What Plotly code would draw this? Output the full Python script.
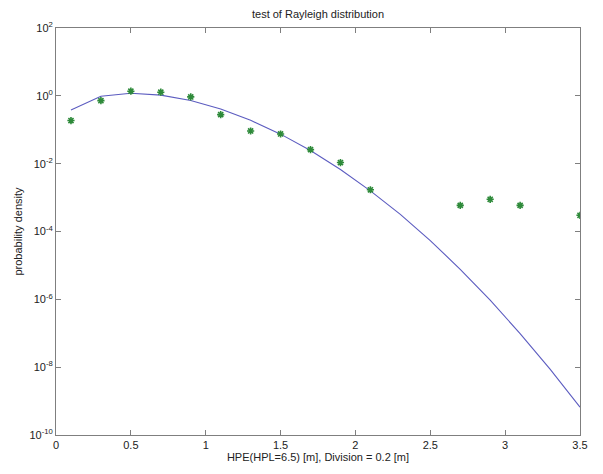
import plotly.graph_objects as go

# Histogram bin centres (Division = 0.2 m)
bin_x = [0.1, 0.3, 0.5, 0.7, 0.9, 1.1, 1.3, 1.5, 1.7, 1.9, 2.1, 2.7, 2.9, 3.1, 3.5]
bin_density = [0.187, 0.72, 1.37, 1.28, 0.93, 0.28, 0.092, 0.075, 0.026, 0.0108,
               0.0017, 5.9e-4, 8.9e-4, 5.9e-4, 3.0e-4]

# Theoretical Rayleigh curve
curve_x = [0.1, 0.3, 0.5, 0.7, 0.9, 1.1, 1.3, 1.5, 1.7, 1.9, 2.1, 2.3, 2.5, 2.7,
           2.9, 3.1, 3.3, 3.5]
curve_y = [0.38, 0.977, 1.19, 1.05, 0.726, 0.409, 0.19, 0.0743, 0.0243, 6.7e-3,
           1.58e-3, 3.2e-4, 5.4e-5, 7.7e-6, 9.4e-7, 9.8e-8, 8.7e-9, 6.6e-10]

x_ticks = [0, 0.5, 1, 1.5, 2, 2.5, 3, 3.5]
x_tick_text = ["0", "0.5", "1", "1.5", "2", "2.5", "3", "3.5"]
y_exps = [2, 0, -2, -4, -6, -8, -10]

fig = go.Figure()
fig.add_trace(go.Scatter(x=curve_x, y=curve_y, mode="lines",
                         line=dict(color="#5c5cc0", width=1.1), showlegend=False))
fig.add_trace(go.Scatter(x=bin_x, y=bin_density, mode="markers",
                         marker=dict(symbol="asterisk-open", size=6, color="#2e8a3a",
                                     line=dict(color="#2e8a3a", width=1.6)),
                         showlegend=False))

axis_common = dict(showline=True, linecolor="#7f7f7f", linewidth=1, mirror="allticks",
                   ticks="inside", ticklen=5, tickcolor="#7f7f7f", showgrid=False,
                   zeroline=False, tickfont=dict(family="Liberation Sans, Arial", size=11,
                                                 color="#222222"))

fig.update_layout(
    width=603, height=474,
    margin=dict(l=56, r=23, t=28, b=34),
    paper_bgcolor="white", plot_bgcolor="white",
    title=dict(text="test of Rayleigh distribution", x=0.5, xanchor="center",
               xref="paper", y=1 - 14 / 474, yanchor="middle",
               font=dict(family="Liberation Sans, Arial", size=11, color="#222222")),
    xaxis=dict(range=[0, 3.5], tickvals=x_ticks, ticktext=x_tick_text,
               title=dict(text="HPE(HPL=6.5) [m], Division = 0.2 [m]", standoff=3,
                          font=dict(family="Liberation Sans, Arial", size=11, color="#222222")),
               **axis_common),
    yaxis=dict(type="log", range=[-10, 2], tickvals=[10.0 ** e for e in y_exps],
               ticktext=["10<sup>%d</sup>" % e for e in y_exps],
               title=dict(text="probability density", standoff=4,
                          font=dict(family="Liberation Sans, Arial", size=11, color="#222222")),
               **axis_common),
)

fig.write_html("out.html")
